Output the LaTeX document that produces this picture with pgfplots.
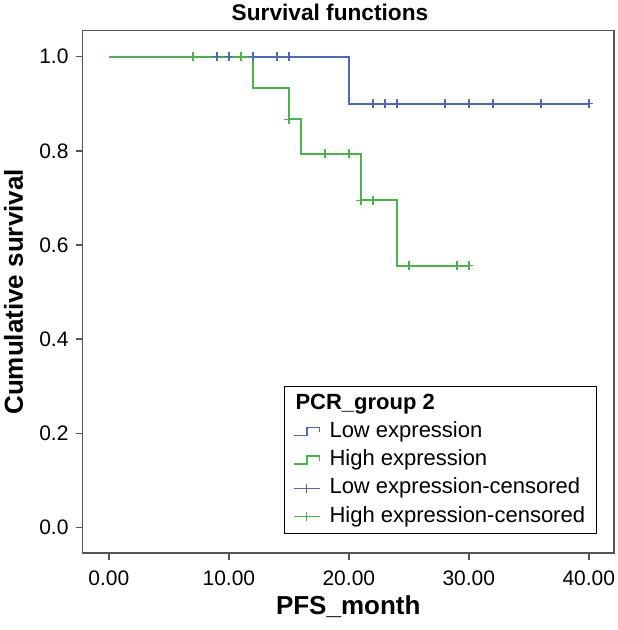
\documentclass[border=0pt]{standalone}
\usepackage{pgfplots}
\pgfplotsset{compat=1.18}
\usepackage{fontspec}
\setmainfont{Liberation Sans}
\definecolor{kmblue}{RGB}{80,103,190}
\definecolor{kmgreen}{RGB}{74,180,74}
\definecolor{framegray}{RGB}{85,85,85}
\begin{document}
\begin{tikzpicture}[x=1pt,y=1pt]
\useasboundingbox (-61.875,-57.75) rectangle (400.875,414.75);
\begin{axis}[
  scale only axis, width=398.6pt, height=391.7pt,
  at={(0,0)}, anchor=south west,
  xmin=-2.2, xmax=42.1, ymin=-0.054, ymax=1.055,
  axis line style={framegray, line width=1.1pt},
  tick style={framegray, line width=1.1pt},
  xtick={0,10,20,30,40}, ytick={0,0.2,0.4,0.6,0.8,1},
  tick align=outside, xtick pos=bottom, ytick pos=left,
  major tick length=5pt,
  /pgf/number format/assume math mode=true,
  ticklabel style={font=\fontsize{15.75}{18}\selectfont},
  x tick label style={yshift=-5pt, /pgf/number format/fixed, /pgf/number format/fixed zerofill, /pgf/number format/precision=2},
  y tick label style={xshift=-2pt, /pgf/number format/fixed, /pgf/number format/fixed zerofill, /pgf/number format/precision=1},
  xlabel={\textbf{PFS\_month}},
  xlabel style={font=\fontsize{19.5}{22}\selectfont, at={(axis description cs:0.5,-0.1187)}, anchor=base},
  ylabel={\textbf{Cumulative survival}},
  ylabel style={font=\fontsize{19.5}{22}\selectfont, at={(axis description cs:-0.112,0.5)}, anchor=base},
  legend style={at={(axis description cs:0.968,0.0364)}, anchor=south east, draw=black, line width=0.8pt, fill=white,
    font=\fontsize{16.5}{19}\selectfont, row sep=1.7pt, inner xsep=6.5pt, inner ysep=3pt,
    nodes={inner ysep=2pt, text height=12pt, text depth=3.5pt},
    /tikz/column 1/.style={column sep=5pt}},
  legend cell align=left,
]
\addlegendimage{empty legend}
\addlegendentry{\hspace{-25.5pt}\textbf{PCR\_group 2}}

\addplot[kmblue, line width=1.4pt, const plot,
  legend image code/.code={\draw[kmblue, line width=0.9pt] (0pt,-3pt) -- (10pt,-3pt) -- (10pt,3pt) -- (19.5pt,3pt) -- (19.5pt,-0.5pt);}]
  coordinates {(0,1) (20,0.9) (40,0.9)};
\addlegendentry{Low expression}

\addplot[kmgreen, line width=1.4pt, const plot,
  legend image code/.code={\draw[kmgreen, line width=0.9pt] (0pt,-3pt) -- (10pt,-3pt) -- (10pt,3pt) -- (19.5pt,3pt) -- (19.5pt,-0.5pt);}]
  coordinates {(0,1) (12,0.933) (15,0.867) (16,0.794) (21,0.695) (24,0.556) (30,0.556)};
\addlegendentry{High expression}

\addplot[kmblue, only marks, mark=+, mark size=3.4pt, mark options={line width=1.1pt},
  legend image code/.code={\draw[kmblue, line width=0.9pt] (0pt,0pt) -- (19.5pt,0pt); \draw[kmblue, line width=0.9pt] (9.75pt,-3.4pt) -- (9.75pt,3.4pt);}]
  coordinates {(9,1) (10,1) (12,1) (14,1) (15,1) (22,0.9) (23,0.9) (24,0.9) (28,0.9) (30,0.9) (32,0.9) (36,0.9) (40,0.9)};
\addlegendentry{Low expression-censored}

\addplot[kmgreen, only marks, mark=+, mark size=3.4pt, mark options={line width=1.1pt},
  legend image code/.code={\draw[kmgreen, line width=0.9pt] (0pt,0pt) -- (19.5pt,0pt); \draw[kmgreen, line width=0.9pt] (9.75pt,-3.4pt) -- (9.75pt,3.4pt);}]
  coordinates {(7,1) (11,1) (15,0.867) (18,0.794) (20,0.794) (21,0.695) (22,0.695) (25,0.556) (29,0.556) (30,0.556)};
\addlegendentry{High expression-censored}
\end{axis}
\node[anchor=base, font=\fontsize{17}{20}\selectfont\bfseries] at (185.6pt,399.5pt) {Survival functions};
\end{tikzpicture}
\end{document}
